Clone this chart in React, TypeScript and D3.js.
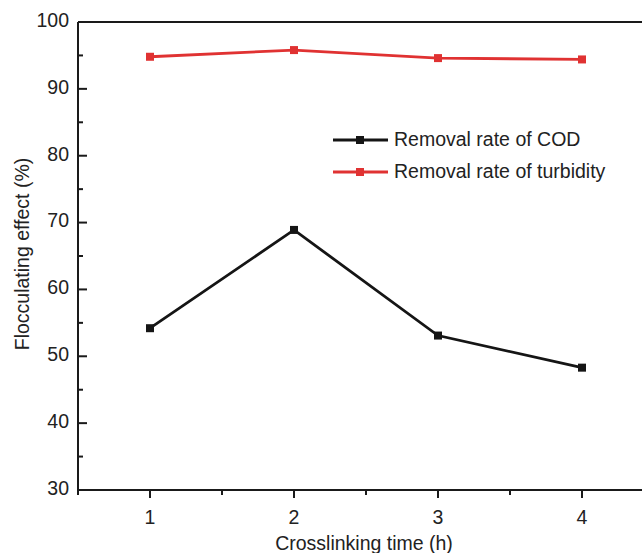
import React from "react";
import * as d3 from "d3";

const times = [1, 2, 3, 4];
const codRemoval = [54.2, 68.9, 53.1, 48.3];
const turbidityRemoval = [94.8, 95.8, 94.6, 94.4];
const xTicks = [1, 2, 3, 4];
const xMinorTicks = [0.5, 1.5, 2.5, 3.5, 4.5];
const yTicks = [30, 40, 50, 60, 70, 80, 90, 100];
const yMinorTicks = [35, 45, 55, 65, 75, 85, 95];
const seriesNames = ["Removal rate of COD", "Removal rate of turbidity"];
const seriesColors = ["#151515", "#e03232"];

export default function App() {
  const W = 642, H = 553;
  const x = d3.scaleLinear().domain([0.5, 4.5]).range([78, 654]);
  const y = d3.scaleLinear().domain([30, 100]).range([490, 22]);
  const line = d3.line<number>().x((_, i) => x(times[i])).y((d) => y(d));
  const series = [codRemoval, turbidityRemoval];
  const font = "'Liberation Sans', Arial, sans-serif";
  const ms = 8;
  return (
    <svg width={W} height={H} style={{ position: "absolute", left: 0, top: 0 }} fontFamily={font}>
      <rect width={W} height={H} fill="#fff" />
      <line x1={x(0.5)} x2={W} y1={y(100)} y2={y(100)} stroke="#1a1a1a" strokeWidth={2} />
      <line x1={x(0.5)} x2={x(0.5)} y1={y(100)} y2={y(30)} stroke="#1a1a1a" strokeWidth={2} />
      <line x1={x(0.5)} x2={W} y1={y(30)} y2={y(30)} stroke="#1a1a1a" strokeWidth={2} />
      {yTicks.map((t) => (
        <g key={"y" + t}>
          <line x1={x(0.5)} x2={x(0.5) + 9} y1={y(t)} y2={y(t)} stroke="#1a1a1a" strokeWidth={2} />
          <text x={x(0.5) - 9} y={y(t) - 2} dy="0.35em" textAnchor="end" fontSize={19.5} fill="#222">{t}</text>
        </g>
      ))}
      {yMinorTicks.map((t) => (
        <line key={"ym" + t} x1={x(0.5)} x2={x(0.5) + 5} y1={y(t)} y2={y(t)} stroke="#1a1a1a" strokeWidth={2} />
      ))}
      {xTicks.map((t) => (
        <g key={"x" + t}>
          <line x1={x(t)} x2={x(t)} y1={y(30)} y2={y(30) + 8} stroke="#1a1a1a" strokeWidth={2} />
          <text x={x(t)} y={y(30) + 34} textAnchor="middle" fontSize={19.5} fill="#222">{t}</text>
        </g>
      ))}
      {xMinorTicks.map((t) => (
        <line key={"xm" + t} x1={x(t)} x2={x(t)} y1={y(30)} y2={y(30) + 5} stroke="#1a1a1a" strokeWidth={2} />
      ))}
      <text x={364} y={550} textAnchor="middle" fontSize={19.5} fill="#222">Crosslinking time (h)</text>
      <text transform={`translate(29, 254) rotate(-90)`} textAnchor="middle" fontSize={19.5} fill="#222">Flocculating effect (%)</text>
      {series.map((s, k) => (
        <g key={"s" + k}>
          <path d={line(s) || ""} fill="none" stroke={seriesColors[k]} strokeWidth={2.8} />
          {s.map((v, i) => (
            <rect key={i} x={x(times[i]) - ms / 2} y={y(v) - ms / 2} width={ms} height={ms} fill={seriesColors[k]} />
          ))}
        </g>
      ))}
      {seriesNames.map((n, k) => {
        const ly = 140 + k * 32;
        return (
          <g key={"l" + k}>
            <line x1={333} x2={388} y1={ly} y2={ly} stroke={seriesColors[k]} strokeWidth={2.8} />
            <rect x={360 - ms / 2} y={ly - ms / 2} width={ms} height={ms} fill={seriesColors[k]} />
            <text x={394} y={ly - 1} dy="0.35em" fontSize={19.5} fill="#222">{n}</text>
          </g>
        );
      })}
    </svg>
  );
}
